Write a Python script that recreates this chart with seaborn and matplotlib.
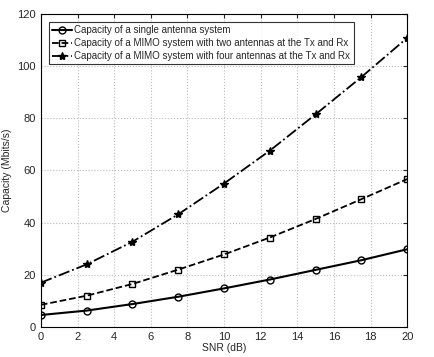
import matplotlib
matplotlib.use("Agg")
import matplotlib.pyplot as plt
import seaborn as sns
import pandas as pd

snr = [0, 2.5, 5, 7.5, 10, 12.5, 15, 17.5, 20]
single = [4.6, 6.3, 8.8, 11.6, 14.8, 18.2, 21.9, 25.6, 29.8]
mimo2 = [8.5, 12.0, 16.5, 22.0, 27.8, 34.3, 41.4, 49.0, 56.7]
mimo4 = [17.0, 24.0, 32.7, 43.2, 55.0, 67.6, 81.5, 95.8, 110.8]
labels = ["Capacity of a single antenna system",
          "Capacity of a MIMO system with two antennas at the Tx and Rx",
          "Capacity of a MIMO system with four antennas at the Tx and Rx"]
xticks = [0, 2, 4, 6, 8, 10, 12, 14, 16, 18, 20]
yticks = [0, 20, 40, 60, 80, 100, 120]

sns.set_style("white")
plt.rcParams['font.family'] = ['Liberation Sans', 'DejaVu Sans']

df = pd.DataFrame({"snr": snr * 3,
                   "cap": single + mimo2 + mimo4,
                   "series": [labels[0]] * 9 + [labels[1]] * 9 + [labels[2]] * 9})

fig = plt.figure(figsize=(4.35, 3.57), dpi=100)
ax = fig.add_axes([0.094, 0.084, 0.842, 0.877])

styles = [("-", "o", "none", 1.5, 5), ("--", "s", "none", 1.3, 5), ("-.", "*", "black", 1.3, 6)]
for lab, (ls, mk, mfc, lw, ms) in zip(labels, styles):
    sub = df[df.series == lab]
    sns.lineplot(data=sub, x="snr", y="cap", ax=ax, color="black", linestyle=ls,
                 marker=mk, markerfacecolor=mfc, markeredgecolor="black",
                 markersize=ms, linewidth=lw, label=lab, markeredgewidth=1.0)

ax.set_xlim(0, 20)
ax.set_ylim(0, 120)
ax.set_xticks(xticks)
ax.set_yticks(yticks)
ax.grid(True, linestyle=":", color="#bbbbbb", linewidth=0.8)
ax.tick_params(labelsize=8, direction="in", length=3, top=True, right=True)
ax.set_xlabel("SNR (dB)", fontsize=7.5, labelpad=1)
ax.set_ylabel("Capacity (Mbits/s)", fontsize=7.5, labelpad=4)
for s in ax.spines.values():
    s.set_color("black")
    s.set_linewidth(0.8)
leg = ax.legend(loc="upper left", fontsize=7, frameon=True, fancybox=False,
                edgecolor="black", borderpad=0.35, labelspacing=0.3,
                handlelength=2.0, handletextpad=0.3, borderaxespad=0.8)
leg.get_frame().set_linewidth(0.8)
fig.savefig("out.png", dpi=100)
